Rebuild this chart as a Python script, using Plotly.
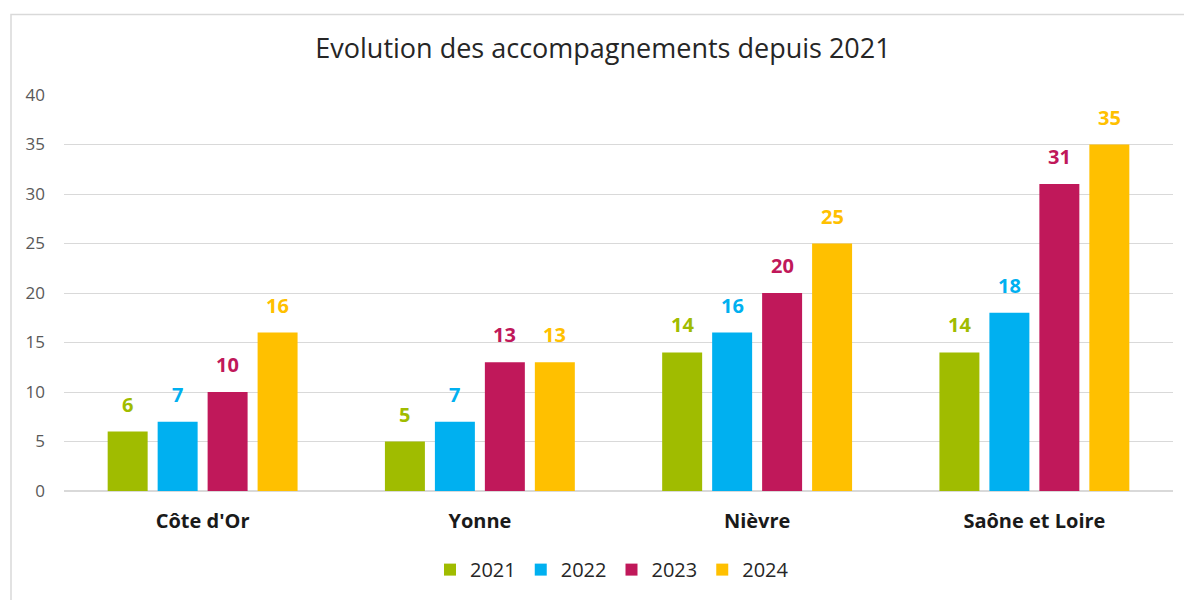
import plotly.graph_objects as go

categories = ["Côte d'Or", "Yonne", "Nièvre", "Saône et Loire"]
years = ["2021", "2022", "2023", "2024"]
values_2021 = [6, 5, 14, 14]
values_2022 = [7, 7, 16, 18]
values_2023 = [10, 13, 20, 31]
values_2024 = [16, 13, 25, 35]
series = [values_2021, values_2022, values_2023, values_2024]
colors = ["#A0BC00", "#00B0F0", "#C0185A", "#FFC000"]
y_ticks = [0, 5, 10, 15, 20, 25, 30, 35, 40]

FONT = "Open Sans"
W, H = 1184, 600
ML, MR, MT = 64, 11, 95
MB = H - 498
plot_w = W - ML - MR
plot_h = H - MT - MB
bargap = 0.279
groupgap = 0.2
slot = plot_w / len(categories) * (1 - bargap) / len(series)


def px_x(x):
    return (x - ML) / plot_w


def px_y(y):
    return (H - MB - y) / plot_h


fig = go.Figure()
annotations = []
for i, (name, vals, col) in enumerate(zip(years, series, colors)):
    fig.add_trace(go.Bar(
        x=categories, y=vals, name=name,
        marker=dict(color=col, line=dict(width=0)),
    ))
    for cat, v in zip(categories, vals):
        annotations.append(dict(
            x=cat, y=v, xref="x", yref="y", text=f"<b>{v}</b>",
            showarrow=False, xshift=(i - (len(series) - 1) / 2) * slot,
            yshift=12, yanchor="bottom",
            font=dict(family=FONT, size=20, color=col),
        ))

# outer frame
shapes = [dict(
    type="rect", xref="paper", yref="paper",
    x0=px_x(11), x1=px_x(1195),
    y0=px_y(615), y1=px_y(13),
    line=dict(color="#D9D9D9", width=1.5), fillcolor="rgba(0,0,0,0)", layer="below",
)]

fig.update_layout(
    width=W, height=H,
    margin=dict(l=ML, r=MR, t=MT, b=MB),
    paper_bgcolor="white", plot_bgcolor="white",
    barmode="group", bargap=bargap, bargroupgap=groupgap,
    title=dict(text="Evolution des accompagnements depuis 2021",
               x=px_x(603), xref="paper", xanchor="center",
               y=1 - 49 / H, yanchor="middle",
               font=dict(family=FONT, size=27, color="#262626")),
    xaxis=dict(showgrid=False, showline=False, ticks="",
               tickfont=dict(family=FONT, size=20, color="#1a1a1a", weight="bold"),
               ticklabelstandoff=16),
    yaxis=dict(range=[0, 40], tickvals=y_ticks, showgrid=True,
               gridcolor="#D9D9D9", gridwidth=1,
               zeroline=True, zerolinecolor="#D9D9D9", zerolinewidth=1.5,
               showline=False, ticks="",
               tickfont=dict(family=FONT, size=17, color="#595959"),
               ticklabelstandoff=18),
    legend=dict(orientation="h", xanchor="center", x=px_x(612),
                yanchor="middle", y=px_y(578),
                font=dict(family=FONT, size=20, color="#262626"),
                itemwidth=30, traceorder="normal"),
    annotations=annotations,
    shapes=shapes,
    showlegend=True,
)
fig.write_html(
    "out.html",
    config={"displayModeBar": False},
    post_script="document.body.style.margin='0';document.body.style.overflow='hidden';",
)
